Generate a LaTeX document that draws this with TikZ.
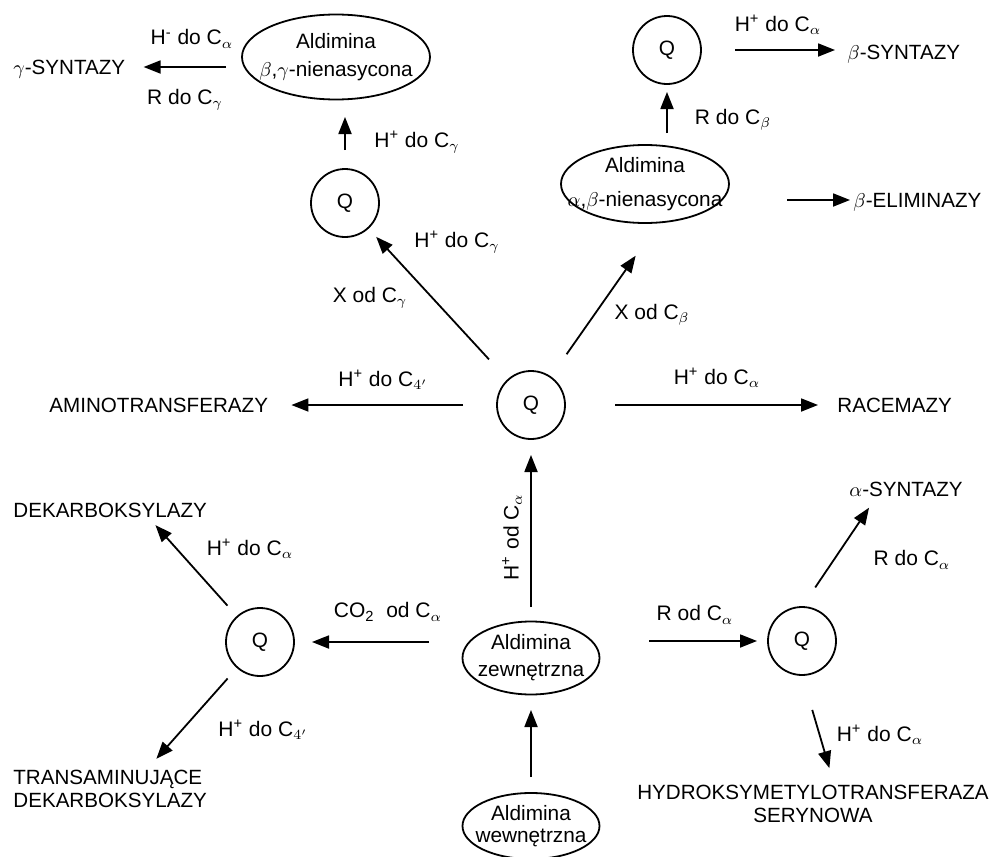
\documentclass[tikz,border=0pt]{standalone}
\usepackage{amsmath}
\usepackage{fontspec}
\setmainfont{Liberation Sans}
\usepackage{tikz}
\usetikzlibrary{positioning,calc,arrows.meta,shapes.geometric}

\begin{document}
\begin{tikzpicture}[x=0.5pt,y=-0.5pt,>={Triangle[length=8.5pt,width=6.5pt]}]
\tikzstyle{q}=[circle,draw,line width=0.9pt,minimum size=34pt,inner sep=0pt,outer sep=0pt,font=\fontsize{10.4}{12}\selectfont]
\tikzstyle{ald}=[ellipse,draw,line width=0.9pt,inner xsep=-10pt,inner ysep=-4pt,outer sep=0pt,align=center,font=\fontsize{10.4}{12}\selectfont]
\tikzstyle{enz}=[inner sep=0pt,text height=7.5pt,text depth=0pt,font=\fontsize{10.3}{11.5}\selectfont]
\tikzstyle{enzz}=[inner sep=0pt,font=\fontsize{10.3}{11.5}\selectfont]
\tikzstyle{lab}=[inner sep=0pt,font=\fontsize{10.5}{12}\selectfont]
\tikzstyle{arr}=[line width=0.9pt,->]
\useasboundingbox (0,0) rectangle (993,857);
\node[q] (q0) at (531,405) {Q};
\node[q] (q1) at (345,203) {Q};
\node[q] (q2) at (667,50) {Q};
\node[q] (q3) at (260,642) {Q};
\node[q] (q4) at (802,641) {Q};
\node[ald,minimum width=94pt,minimum height=42.5pt] (abg) at (336,57) {Aldimina\\[2pt]$\beta$,$\gamma$-nienasycona};
\node[ald,minimum width=84pt,minimum height=39pt] (aab) at (645,184) {Aldimina\\[5pt]$\alpha$,$\beta$-nienasycona};
\node[ald,minimum width=68.5pt,minimum height=36.5pt] (zew) at (531,658) {Aldimina\\[1.5pt]zewnętrzna};
\node[ald,minimum width=68.5pt,minimum height=33pt] (wew) at (531,826) {Aldimina\\[-1pt]wewnętrzna};
\node[enz,anchor=west] (gsyn) at (13,67) {$\gamma$-SYNTAZY};
\node[enz,anchor=west] (bsyn) at (847,52) {$\beta$-SYNTAZY};
\node[enz,anchor=west] (belim) at (853,200) {$\beta$-ELIMINAZY};
\node[enz,anchor=west] (amino) at (49,405) {AMINOTRANSFERAZY};
\node[enz,anchor=west] (race) at (837,405) {RACEMAZY};
\node[enz,anchor=west] (dekarb) at (13,510) {DEKARBOKSYLAZY};
\node[enzz,anchor=west,align=left] (trans) at (13,788.5) {TRANSAMINUJĄCE\\DEKARBOKSYLAZY};
\node[enz,anchor=west] (asyn) at (849,489) {$\alpha$-SYNTAZY};
\node[enzz,align=center] (hydro) at (813,803.5) {HYDROKSYMETYLOTRANSFERAZA\\SERYNOWA};
\node[lab] (l1) at (192,39) {H\textsuperscript{-} do C$_\alpha$};
\node[lab] (l2) at (185,100) {R do C$_\gamma$};
\node[lab] (l3) at (417,142) {H\textsuperscript{+} do C$_\gamma$};
\node[lab] (l4) at (778,25) {H\textsuperscript{+} do C$_\alpha$};
\node[lab] (l5) at (733,120) {R do C$_\beta$};
\node[lab] (l6) at (457,242) {H\textsuperscript{+} do C$_\gamma$};
\node[lab] (l7) at (370,298) {X od C$_\gamma$};
\node[lab] (l8) at (652,315) {X od C$_\beta$};
\node[lab] (l9) at (383,380) {H\textsuperscript{+} do C$_{4'}$};
\node[lab] (l10) at (717,378) {H\textsuperscript{+} do C$_\alpha$};
\node[lab,rotate=90] (l11) at (512,537) {H\textsuperscript{+} od C$_\alpha$};
\node[lab] (l12) at (388,612) {CO\textsubscript{2}\ \ od C$_\alpha$};
\node[lab] (l13) at (695,615) {R od C$_\alpha$};
\node[lab] (l14) at (250,549) {H\textsuperscript{+} do C$_\alpha$};
\node[lab] (l15) at (263,730) {H\textsuperscript{+} do C$_{4'}$};
\node[lab] (l16) at (912,560) {R do C$_\alpha$};
\node[lab] (l17) at (880,735) {H\textsuperscript{+} do C$_\alpha$};
\draw[arr,shorten <=8pt,shorten >=9pt] (abg.west |- gsyn) -- (gsyn);
\draw[arr,shorten <=9.5pt,shorten >=8.75pt] (q1) -- (q1 |- abg.south);
\draw[arr,shorten <=14pt,shorten >=6pt] (q0) -- (q1);
\draw[arr,shorten <=14pt,shorten >=20.3pt] (q0) -- (aab.290);
\draw[arr,shorten <=6pt,shorten >=4pt] (q2 |- aab.north) -- (q2);
\draw[arr,shorten <=17pt,shorten >=6pt] (q2) -- (q2 -| bsyn.west);
\draw[arr,shorten <=29pt,shorten >=1.5pt] (aab.east |- belim) -- (belim);
\draw[arr,shorten <=17pt,shorten >=11.5pt] (q0) -- (amino);
\draw[arr,shorten <=25pt,shorten >=9.5pt] (q0) -- (race);
\draw[arr,shorten <=7.25pt,shorten >=8pt] (zew) -- (q0);
\draw[arr,shorten <=8pt,shorten >=7.75pt] (wew) -- (zew);
\draw[arr,shorten <=16.75pt,shorten >=9pt] (zew.west |- q3) -- (q3);
\draw[arr,shorten <=24.75pt,shorten >=5.5pt] (zew.east |- q4) -- (q4);
\draw[arr,shorten <=7.4pt,shorten >=4.8pt] (q3) -- ($(dekarb.south west)!0.7!(dekarb.south east)$);
\draw[arr,shorten <=7.4pt,shorten >=7pt] (q3) -- ($(trans.north west)!0.69!(trans.north east)$);
\draw[arr,shorten <=11.8pt,shorten >=6.5pt] (q4.north) -- ($(asyn.south west)!0.24!(asyn.south east)$);
\draw[arr,shorten <=18.2pt,shorten >=8.4pt] (q4.south) -- ($(hydro.north west)!0.56!(hydro.north east)$);
\end{tikzpicture}
\end{document}
